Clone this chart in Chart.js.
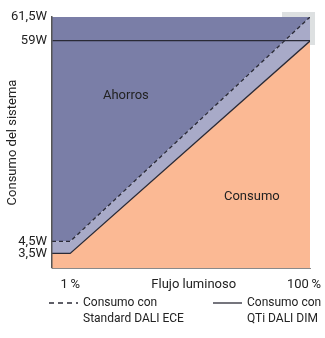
<!DOCTYPE html>
<html>
<head>
<meta charset="utf-8">
<script src="https://cdn.jsdelivr.net/npm/chart.js@4"></script>
<style>
  html, body { margin: 0; padding: 0; background: #fff; }
</style>
</head>
<body>
<canvas id="myChart" width="325" height="338"></canvas>
<script>
// flux in %, power in W
var fluxPoints = [-6.5, 1, 100];
var qtiPower = [3.5, 3.5, 59];
var ecePower = [4.5, 4.5, 61.5];
var yTickValues = [3.5, 4.5, 59, 61.5];
var xTickValues = [1, 52, 100];
var xTickLabels = ['1\u2009%', 'Flujo luminoso', '100\u2009%'];
var regionNames = ['Ahorros', 'Consumo'];
var regionFlux = [24, 76];
var regionPower = [44, 16.6];

var FONT = "Roboto, 'Liberation Sans', sans-serif";

// linear scale with a schematic, piecewise axis (small values are stretched out)
class StepScale extends Chart.LinearScale {
  _dec(value) {
    var a = this.options.anchors;
    if (value <= a[0][0]) return a[0][1];
    for (var i = 1; i < a.length; i++) {
      if (value <= a[i][0]) {
        var t = (value - a[i - 1][0]) / (a[i][0] - a[i - 1][0]);
        return a[i - 1][1] + t * (a[i][1] - a[i - 1][1]);
      }
    }
    return a[a.length - 1][1];
  }
  getPixelForValue(value) {
    if (value === null || isNaN(value)) return NaN;
    return this.getPixelForDecimal(this._dec(value));
  }
  getValueForPixel(pixel) {
    var d = this.getDecimalForPixel(pixel);
    var a = this.options.anchors;
    for (var i = 1; i < a.length; i++) {
      if (d <= a[i][1]) {
        var t = (d - a[i - 1][1]) / (a[i][1] - a[i - 1][1]);
        return a[i - 1][0] + t * (a[i][0] - a[i - 1][0]);
      }
    }
    return a[a.length - 1][0];
  }
}
StepScale.id = 'stepLinear';
StepScale.defaults = Chart.LinearScale.defaults;
Chart.register(StepScale);

function toPts(ys) {
  return fluxPoints.map(function (x, i) { return { x: x, y: ys[i] }; });
}

var cornerBox = {
  id: 'cornerBox',
  beforeDraw: function (chart) {
    var a = chart.chartArea, c = chart.ctx;
    c.save();
    c.fillStyle = '#dde0e1';
    c.fillRect(a.right - 28, a.top - 5, 33, 33);
    c.restore();
    // keep the last x label inside the canvas
    var items = chart.scales.x.getLabelItems();
    var last = items[items.length - 1];
    if (last && !last._moved) {
      last.options.translation[0] -= 6;
      last._moved = true;
    }
  }
};

var regionText = {
  id: 'regionText',
  afterDatasetsDraw: function (chart) {
    var c = chart.ctx, xs = chart.scales.x, ys = chart.scales.y;
    c.save();
    c.font = '13px ' + FONT;
    c.fillStyle = '#222';
    c.textAlign = 'center';
    c.textBaseline = 'middle';
    for (var i = 0; i < regionNames.length; i++) {
      c.fillText(regionNames[i], xs.getPixelForValue(regionFlux[i]), ys.getPixelForValue(regionPower[i]));
    }
    c.restore();
  }
};

// two-line legend under the chart
var lineLegend = {
  id: 'lineLegend',
  afterDraw: function (chart) {
    var c = chart.ctx;
    var cols = [49, 213];
    var k = 0;
    c.save();
    c.font = '12px ' + FONT;
    c.fillStyle = '#222';
    c.textBaseline = 'middle';
    chart.data.datasets.slice().reverse().forEach(function (ds) {
      if (!ds.label) return;
      var x = cols[k++], y = 303;
      c.strokeStyle = ds.borderColor;
      c.lineWidth = 1.3;
      c.setLineDash(ds.borderDash ? [5, 4] : []);
      c.beginPath();
      c.moveTo(x, y);
      c.lineTo(x + 29, y);
      c.stroke();
      ds.label.split('\n').forEach(function (t, j) {
        c.fillText(t, x + 34, y + j * 16);
      });
    });
    c.restore();
  }
};

var ctx = document.getElementById('myChart');
var myChart = new Chart(ctx, {
  type: 'line',
  data: {
    datasets: [{
      label: 'Consumo con\nQTi DALI DIM',
      data: toPts(qtiPower),
      borderColor: '#2a2a36',
      borderWidth: 1.3,
      backgroundColor: '#fbb994',
      fill: 'start',
      pointRadius: 0
    }, {
      label: 'Consumo con\nStandard DALI ECE',
      data: toPts(ecePower),
      borderColor: '#2a2a36',
      borderWidth: 1.3,
      borderDash: [4, 3],
      backgroundColor: '#a8aac8',
      fill: 0,
      pointRadius: 0
    }, {
      data: toPts(ecePower),
      borderColor: 'transparent',
      borderWidth: 0,
      backgroundColor: '#7a7ea7',
      fill: 'end',
      pointRadius: 0
    }]
  },
  options: {
    responsive: false,
    animation: false,
    layout: { padding: { top: 17, left: 0, right: 0, bottom: 0 } },
    plugins: { legend: { display: false }, tooltip: { enabled: false } },
    scales: {
      x: {
        type: 'linear',
        min: -6.5,
        max: 100,
        afterBuildTicks: function (s) { s.ticks = xTickValues.map(function (v) { return { value: v }; }); },
        afterFit: function (s) { s.height = 70; s.paddingLeft = 0; s.paddingRight = 15; },
        grid: { display: false, drawTicks: false },
        border: { color: '#8a8a8a', width: 1 },
        ticks: {
          autoSkip: false,
          maxRotation: 0,
          padding: 9,
          color: '#222',
          font: { family: FONT, size: 13 },
          callback: function (v) { return xTickLabels[xTickValues.indexOf(v)]; }
        }
      },
      y: {
        type: 'stepLinear',
        min: 0,
        max: 61.5,
        z: 1,
        anchors: [[0, 0], [3.5, 0.058], [4.5, 0.106], [59, 0.904], [61.5, 1]],
        afterBuildTicks: function (s) { s.ticks = yTickValues.map(function (v) { return { value: v }; }); },
        afterFit: function (s) { s.width = 52; },
        grid: {
          z: 1,
          drawTicks: false,
          color: function (c) { return c.tick && c.tick.value === 59 ? '#2a2a36' : 'transparent'; },
          lineWidth: 1.3
        },
        border: { color: '#555', width: 1.5, z: 1 },
        ticks: {
          autoSkip: false,
          padding: 5,
          color: '#222',
          font: { family: FONT, size: 13 },
          callback: function (v) { return String(v).replace('.', ',') + 'W'; }
        },
        title: {
          display: true,
          text: 'Consumo del sistema',
          color: '#222',
          font: { family: FONT, size: 13 },
          padding: { top: 5, bottom: 0 }
        }
      }
    }
  },
  plugins: [cornerBox, regionText, lineLegend]
});
</script>
</body>
</html>
